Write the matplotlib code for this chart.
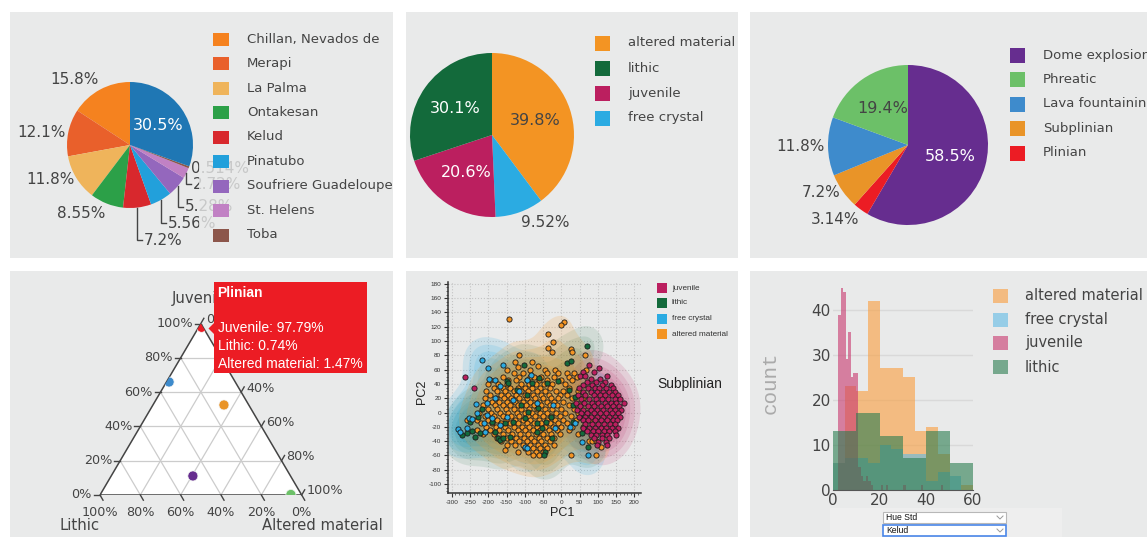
import numpy as np
import matplotlib
matplotlib.use("Agg")
import matplotlib.pyplot as plt
from matplotlib.patches import Rectangle, Polygon
from matplotlib.ticker import MultipleLocator

plt.rcParams['font.family'] = ['DejaVu Sans']
plt.rcParams['axes.unicode_minus'] = False

# ------------------------------------------------------------------ data
volcanoes = ["Chillan, Nevados de", "Merapi", "La Palma", "Ontakesan", "Kelud",
             "Pinatubo", "Soufriere Guadeloupe", "St. Helens", "Toba", "other"]
volcano_pct = [15.8, 12.1, 11.8, 8.55, 7.2, 5.56, 5.28, 2.72, 0.514, 30.5]
volcano_colors = ["#f5821f", "#e9602b", "#efb45b", "#2ca048", "#d8282d",
                  "#22a0db", "#9467bd", "#c181c4", "#8c564b", "#1f77b4"]

components = ["altered material", "free crystal", "juvenile", "lithic"]
component_pct = [39.8, 9.52, 20.6, 30.1]
component_colors = {"altered material": "#f39423", "lithic": "#136a3b",
                    "juvenile": "#bb1f5f", "free crystal": "#2babe2"}
component_legend = ["altered material", "lithic", "juvenile", "free crystal"]

eruption_types = ["Dome explosion", "Plinian", "Subplinian", "Lava fountaining", "Phreatic"]
eruption_pct = [58.5, 3.14, 7.2, 11.8, 19.4]
eruption_colors = {"Dome explosion": "#662d8f", "Phreatic": "#6cc068",
                   "Lava fountaining": "#3e8bcc", "Subplinian": "#e99428",
                   "Plinian": "#ec1c24"}
eruption_legend = ["Dome explosion", "Phreatic", "Lava fountaining", "Subplinian", "Plinian"]

# ternary composition (%) per eruption type
tern_types = ["Plinian", "Lava fountaining", "Subplinian", "Dome explosion", "Phreatic"]
tern_juvenile = [97.79, 65.9, 52.5, 11.1, 0.3]
tern_lithic = [0.74, 32.8, 12.3, 48.4, 5.2]
tern_altered = [1.47, 1.3, 35.2, 40.5, 94.5]

# PCA scores (PC1, PC2)
pca_juvenile = [
    (-263, 50), (-239, 35),
    (76, 66), (104, 62), (58, 56), (89, 56), (51, 51), (65, 51), (124, 51),
    (80, 47), (106, 47), (70, 43), (96, 43), (118, 43),
    (60, 39), (85, 39), (110, 39), (135, 39),
    (48, 34), (72, 34), (92, 34), (104, 34), (122, 34), (142, 34),
    (58, 29), (80, 29), (98, 29), (115, 29), (130, 29), (148, 29),
    (45, 24), (66, 24), (88, 24), (106, 24), (120, 24), (138, 24), (155, 24),
    (55, 19), (76, 19), (94, 19), (112, 19), (128, 19), (146, 19), (160, 19),
    (40, 14), (62, 14), (84, 14), (100, 14), (118, 14), (135, 14), (150, 14), (170, 14),
    (50, 9), (72, 9), (90, 9), (108, 9), (124, 9), (140, 9), (158, 9),
    (44, 4), (60, 4), (80, 4), (98, 4), (115, 4), (132, 4), (148, 4), (163, 4),
    (55, -1), (70, -1), (88, -1), (106, -1), (122, -1), (138, -1), (155, -1),
    (48, -6), (64, -6), (82, -6), (98, -6), (114, -6), (130, -6), (146, -6), (160, -6),
    (58, -11), (74, -11), (92, -11), (108, -11), (124, -11), (140, -11), (152, -11),
    (66, -16), (84, -16), (100, -16), (116, -16), (132, -16), (148, -16),
    (58, -21), (76, -21), (92, -21), (108, -21), (122, -21), (138, -21), (155, -21),
    (70, -26), (86, -26), (100, -26), (116, -26), (130, -26), (146, -26),
    (80, -31), (95, -31), (110, -31), (125, -31), (150, -31),
    (88, -36), (111, -36), (130, -36), (100, -41), (122, -41), (98, -46), (124, -46),
]
pca_lithic = [
    (71, 93), (15, 69), (26, 72), (-103, 66), (-149, 44), (-145, 41), (-81, 41),
    (-60, 48), (-40, 41), (-8, 44), (20, 32), (38, 22), (31, 11), (51, -6),
    (65, -20), (33, -13), (56, -29), (74, -48), (-99, -8), (-53, -22), (-67, -27),
    (-44, -55), (-47, -60), (-218, 5), (-227, -6), (-250, -13), (-245, -26),
    (-222, -29), (-236, -34), (-259, -29), (-273, -31), (-190, -13), (-181, -27),
    (-172, -36), (-168, -38), (-159, -36), (-141, -34), (-154, -15), (-131, -13),
    (-111, 10), (-90, 1), (-67, -15), (-42, -13), (-28, -6), (-63, 6), (-94, 24),
    (-122, 32), (-26, -36),
]
pca_free_crystal = [
    (-218, 74), (-202, 62), (-197, 47), (-181, 46), (-161, 67), (-181, 20),
    (-233, 12), (-204, 14), (-168, 37), (-95, 46), (-115, 30), (-67, 13),
    (-23, 10), (-17, -22), (-254, -8), (-282, -23), (-277, -27), (-259, -22),
    (-245, -9), (-232, -1), (-204, -3), (-190, -8), (-99, -48), (-95, -50),
    (56, -41), (74, -60), (92, 32), (24, -20), (38, -15), (-84, 52), (-131, 17),
    (-149, -6), (-168, -17), (-213, -15), (-209, -27),
]
pca_altered = [
    (-143, 131), (8, 126), (0, 122), (-36, 110), (-24, 98), (-36, 90), (25, 89),
    (-26, 85), (30, 84), (-117, 80), (64, 80),
    (-128, 70), (-80, 70), (-120, 64), (-65, 65),
    (-150, 60), (-85, 60), (-45, 60), (-18, 60), (68, 60),
    (-130, 55), (-105, 55), (-40, 55), (-8, 55), (15, 55), (35, 55),
    (-160, 50), (-115, 50), (-85, 50), (-75, 50), (-55, 50), (-20, 50), (20, 50), (42, 50),
    (-195, 45), (-145, 45), (-125, 45), (-95, 45), (-60, 45), (-38, 45), (0, 45), (30, 45),
    (-200, 40), (-172, 40), (-150, 40), (-110, 40), (-88, 40), (-70, 40), (-48, 40), (-25, 40), (10, 40),
    (-185, 35), (-160, 35), (-140, 35), (-120, 35), (-100, 35), (-80, 35), (-58, 35), (-30, 35), (20, 35),
    (-205, 30), (-175, 30), (-155, 30), (-130, 30), (-110, 30), (-90, 30), (-68, 30), (-45, 30),
    (-15, 30), (5, 30), (45, 30),
    (-195, 25), (-165, 25), (-145, 25), (-125, 25), (-100, 25), (-78, 25), (-55, 25), (-35, 25),
    (-5, 25), (15, 25),
    (-210, 20), (-180, 20), (-158, 20), (-138, 20), (-115, 20), (-95, 20), (-72, 20), (-50, 20),
    (-28, 20), (-10, 20), (28, 20), (60, 20),
    (-190, 15), (-170, 15), (-150, 15), (-128, 15), (-105, 15), (-85, 15), (-62, 15), (-40, 15),
    (-20, 15), (5, 15),
    (-215, 10), (-182, 10), (-160, 10), (-140, 10), (-118, 10), (-98, 10), (-75, 10), (-55, 10),
    (-32, 10), (-12, 10), (20, 10), (50, 10),
    (-200, 5), (-175, 5), (-152, 5), (-130, 5), (-110, 5), (-88, 5), (-68, 5), (-45, 5),
    (-25, 5), (0, 5), (35, 5),
    (-225, 0), (-192, 0), (-168, 0), (-145, 0), (-122, 0), (-100, 0), (-80, 0), (-58, 0),
    (-38, 0), (-15, 0), (10, 0), (45, 0), (70, 0),
    (-210, -5), (-185, -5), (-160, -5), (-138, -5), (-115, -5), (-92, -5), (-72, -5), (-50, -5),
    (-28, -5), (-5, -5), (25, -5),
    (-258, -10), (-230, -10), (-200, -10), (-175, -10), (-152, -10), (-128, -10), (-105, -10),
    (-85, -10), (-62, -10), (-40, -10), (-18, -10), (5, -10), (40, -10), (78, -10),
    (-220, -15), (-190, -15), (-165, -15), (-140, -15), (-118, -15), (-95, -15), (-75, -15),
    (-55, -15), (-32, -15), (-10, -15), (15, -15),
    (-205, -20), (-180, -20), (-155, -20), (-130, -20), (-108, -20), (-88, -20), (-68, -20),
    (-45, -20), (-22, -20), (0, -20), (30, -20), (60, -20),
    (-230, -25), (-195, -25), (-170, -25), (-145, -25), (-120, -25), (-100, -25), (-78, -25),
    (-58, -25), (-35, -25), (-12, -25), (20, -25),
    (-215, -30), (-185, -30), (-160, -30), (-135, -30), (-112, -30), (-90, -30), (-70, -30),
    (-50, -30), (-28, -30), (-5, -30), (45, -30),
    (-175, -35), (-150, -35), (-125, -35), (-102, -35), (-82, -35), (-62, -35), (-40, -35), (-20, -35),
    (-165, -40), (-138, -40), (-115, -40), (-95, -40), (-75, -40), (-55, -40), (-30, -40),
    (75, -40), (85, -40), (95, -40),
    (-150, -45), (-128, -45), (-105, -45), (-85, -45), (-65, -45), (-45, -45), (-20, -45), (108, -48),
    (-155, -52), (-100, -50), (-78, -50), (-58, -50), (-38, -50),
    (-120, -55), (-90, -55), (-70, -55), (-50, -55),
    (-78, -60), (-62, -60), (25, -60), (95, -60),
]

# Hue Std histogram counts (Kelud)
hist_altered = [6, 23, 22, 42, 27, 27, 25, 13, 14, 8, 0, 1]          # 5-wide bins from 0
hist_free_crystal = [6, 7, 7, 6, 10, 9, 8, 8, 2, 4, 3, 0]            # 5-wide bins from 0
hist_lithic = [13, 17, 12, 7, 13, 6]                                  # 10-wide bins from 0
hist_juvenile = [39, 45, 44, 29, 35, 25, 26, 26, 5, 3, 2, 3, 2, 1, 0, 0, 0, 1, 0, 1,
                 0, 0, 0, 0, 0, 0, 1, 0, 0, 0, 0, 0, 0, 1, 0, 0, 0, 0, 0, 0, 0, 1]

# ------------------------------------------------------------------ figure
W, H, DPI = 1147, 537, 100
PANEL = "#e9eaea"
TXT = "#444444"
fig = plt.figure(figsize=(W / DPI, H / DPI), dpi=DPI, facecolor="white")


def axes_px(x0, y0, x1, y1, z=1):
    ax = fig.add_axes([x0 / W, 1 - y1 / H, (x1 - x0) / W, (y1 - y0) / H])
    ax.set_zorder(z)
    ax.patch.set_alpha(0)
    return ax


bg = axes_px(0, 0, W, H, z=0)
bg.set_xlim(0, W); bg.set_ylim(H, 0); bg.axis("off")
for x0, y0, x1, y1 in [(10, 12, 393, 258), (406, 12, 738, 258), (750, 12, 1147, 258),
                       (10, 271, 393, 537), (406, 271, 738, 537), (750, 271, 1147, 537)]:
    bg.add_patch(Rectangle((x0, y0), x1 - x0, y1 - y0, facecolor=PANEL, lw=0))
bg.add_patch(Rectangle((830, 508), 232, 29, facecolor="#eeeeee", lw=0))

ov = axes_px(0, 0, W, H, z=20)
ov.set_xlim(0, W); ov.set_ylim(H, 0); ov.axis("off")


# ------------------------------------------------------------------ pies
def draw_pie(cx, cy, r, values, colors, clockwise, modes):
    span = 2.4
    ax = axes_px(cx - r * span, cy - r * span, cx + r * span, cy + r * span, z=2)
    ax.pie(values, colors=colors, startangle=90, counterclock=not clockwise,
           wedgeprops=dict(linewidth=0))
    ax.set_xlim(-span, span); ax.set_ylim(-span, span)
    ax.axis("off")
    total = float(sum(values))
    cum = 0.0
    for v, mode in zip(values, modes):
        mid = (cum + v / 2) / total
        cum += v
        ang = np.deg2rad(90 - 360 * mid if clockwise else 90 + 360 * mid)
        dx, dy = np.cos(ang), np.sin(ang)
        lab = f"{v:.3g}%"
        if mode[0] == "in":
            ax.text(0.55 * dx, 0.55 * dy, lab, ha="center", va="center",
                    fontsize=11.5, color=mode[1])
        elif mode[0] == "out":
            ha = "left" if dx > 0 else "right"
            va = "bottom" if dy > 0.6 else ("top" if dy < -0.6 else "center")
            ax.text(1.04 * dx, 1.04 * dy, lab, ha=ha, va=va, fontsize=11, color=TXT)
        else:
            ylev = mode[1]
            ax.plot([dx, dx, dx + 0.08], [dy, ylev, ylev], color=TXT, lw=1,
                    clip_on=False, solid_joinstyle="miter")
            ax.text(dx + 0.11, ylev, lab, ha="left", va="center", fontsize=11, color=TXT)
    return ax


draw_pie(130, 145, 63, volcano_pct, volcano_colors, False,
         [("out",), ("out",), ("out",), ("out",), ("lead", -1.51), ("lead", -1.24),
          ("lead", -0.98), ("lead", -0.62), ("out",), ("in", "white")])

draw_pie(492, 135, 82, component_pct, [component_colors[c] for c in components], True,
         [("in", TXT), ("out",), ("in", "white"), ("in", "white")])

draw_pie(908, 145, 80, eruption_pct, [eruption_colors[e] for e in eruption_types], True,
         [("in", "white"), ("out",), ("out",), ("out",), ("in", TXT)])


def legend(x_sq, rows, labels, colors, sq_w, sq_h, tx, fs, alpha=1.0, family=None, tc=TXT):
    for y, lab, col in zip(rows, labels, colors):
        ov.add_patch(Rectangle((x_sq, y - sq_h / 2), sq_w, sq_h, facecolor=col,
                               alpha=alpha, lw=0, zorder=4))
        kw = {} if family is None else {"family": family}
        ov.text(tx, y, lab, fontsize=fs, color=tc, va="center", ha="left", zorder=4, **kw)


# semi-opaque legend box of the first pie (covers the outside labels behind it)
ov.add_patch(Rectangle((199, 25), 193, 226, facecolor=PANEL, alpha=0.8, lw=0, zorder=3))
legend(213, [39 + 24.5 * i for i in range(9)], volcanoes[:9], volcano_colors[:9],
       16, 13, 247, 9.5)
legend(595, [43, 68, 93, 118], component_legend,
       [component_colors[c] for c in component_legend], 15, 15, 628, 9.5)
legend(1010, [55, 79.5, 104, 128.5, 153], eruption_legend,
       [eruption_colors[e] for e in eruption_legend], 15, 15, 1043, 9.5)

# ------------------------------------------------------------------ ternary
h = np.sqrt(3) / 2
tern = axes_px(100, 323.5, 301.7, 495, z=2)
tern.set_xlim(0, 1); tern.set_ylim(0, h); tern.axis("off")
PXX, PXY = 201.7, 171.5 / h      # pixels per data unit


def txy(j, l, a):
    s = j + l + a
    return 0.5 * j / s + a / s, h * j / s


tri = Polygon([(0, 0), (1, 0), (0.5, h)], closed=True, facecolor="white",
              edgecolor="none", zorder=1)
tern.add_patch(tri)
for k in (0.2, 0.4, 0.6, 0.8):
    kw = dict(color="#cccccc", lw=0.9, zorder=2)
    tern.plot([0.5 * k, 1 - 0.5 * k], [h * k, h * k], **kw)
    tern.plot([1 - k, 0.5 * (1 - k)], [0, h * (1 - k)], **kw)
    tern.plot([k, 0.5 * (1 - k) + k], [0, h * (1 - k)], **kw)
tern.add_patch(Polygon([(0, 0), (1, 0), (0.5, h)], closed=True, facecolor="none",
                       edgecolor="#444444", lw=1.1, zorder=3))

for k in np.arange(0, 1.01, 0.2):
    lab = f"{int(round(k * 100))}%"
    # juvenile axis (left edge)
    x, y = 0.5 * k, h * k
    tern.plot([x - 6 / PXX, x], [y, y], color="#444444", lw=1, clip_on=False)
    tern.text(x - 8 / PXX, y, lab, ha="right", va="center", fontsize=9.2, color=TXT)
    # lithic axis (bottom edge)
    x = 1 - k
    tern.plot([x, x + 3 / PXX], [0, -5.2 / PXY], color="#444444", lw=1, clip_on=False)
    tern.text(x, -18 / PXY, lab, ha="center", va="center", fontsize=9.2, color=TXT)
    # altered material axis (right edge)
    x, y = 0.5 * (1 - k) + k, h * (1 - k)
    tern.plot([x, x + 3 / PXX], [y, y + 5.2 / PXY], color="#444444", lw=1, clip_on=False)
    tern.text(x + 5 / PXX, y + 4 / PXY, lab, ha="left", va="center", fontsize=9.2, color=TXT)

pts = [txy(j, l, a) for j, l, a in zip(tern_juvenile, tern_lithic, tern_altered)]
sc = tern.scatter([p[0] for p in pts], [p[1] for p in pts], s=52,
                  c=[eruption_colors[t] for t in tern_types],
                  edgecolors="#f4f4f4", linewidths=0.5, zorder=4)
sc.set_clip_path(tri)

ov.text(200.8, 299, "Juvenile", ha="center", va="center", fontsize=10.7, color=TXT, zorder=2)
ov.text(80, 525, "Lithic", ha="center", va="center", fontsize=10.7, color=TXT, zorder=2)
ov.text(322, 525, "Altered material", ha="center", va="center", fontsize=10.7, color=TXT, zorder=2)

# hover label on the Plinian point
ov.add_patch(Rectangle((214.3, 281.7), 152.4, 91.6, facecolor="#ec1c24", lw=0, zorder=6))
ov.add_patch(Polygon([(214.5, 322.5), (208.5, 328.5), (214.5, 334.5)], closed=True,
                     facecolor="#ec1c24", lw=0, zorder=6))
i_pl = tern_types.index("Plinian")
ov.text(217.5, 293, "Plinian", fontsize=10, fontweight="bold", color="white",
        family="Liberation Sans", va="center", ha="left", zorder=7)
for yy, name, val in [(328, "Juvenile", tern_juvenile[i_pl]),
                      (346, "Lithic", tern_lithic[i_pl]),
                      (364, "Altered material", tern_altered[i_pl])]:
    ov.text(217.5, yy, f"{name}: {val:.2f}%", fontsize=10, color="white",
            family="Liberation Sans", va="center", ha="left", zorder=7)

# ------------------------------------------------------------------ PCA
pca = axes_px(448.3, 281.7, 640.7, 493.3, z=2)
X0, X1, Y0, Y1 = -309.3, 217, -113, 183
pca.set_xlim(X0, X1); pca.set_ylim(Y0, Y1)
gx = np.linspace(X0, X1, 240)
gy = np.linspace(Y0, Y1, 170)
GX, GY = np.meshgrid(gx, gy)


def density(points, bx=32.0, by=20.0):
    d = np.zeros_like(GX)
    for x, y in points:
        d += np.exp(-0.5 * (((GX - x) / bx) ** 2 + ((GY - y) / by) ** 2))
    return d / d.max()


# density shading, drawn in legend order so altered material ends on top
shade = [(pca_juvenile, component_colors["juvenile"], 0.13),
         (pca_lithic, component_colors["lithic"], 0.11),
         (pca_free_crystal, component_colors["free crystal"], 0.15),
         (pca_altered, component_colors["altered material"], 0.17)]
levels = [0.06, 0.14, 0.25, 0.38, 0.55, 0.75]
for points, col, a in shade:
    d = density(points)
    for lv in levels:
        pca.contourf(GX, GY, d, levels=[lv, 1.01], colors=[col], alpha=a,
                     antialiased=True, zorder=1)

groups = [(pca_altered, component_colors["altered material"]),
          (pca_lithic, component_colors["lithic"]),
          (pca_free_crystal, component_colors["free crystal"]),
          (pca_juvenile, component_colors["juvenile"])]
for points, col in groups:
    arr = np.array(points, dtype=float)
    pca.scatter(arr[:, 0], arr[:, 1], s=14, c=col, edgecolors="#1b1b1b",
                linewidths=0.6, zorder=3)

pca.xaxis.set_minor_locator(MultipleLocator(10))
pca.yaxis.set_minor_locator(MultipleLocator(5))
pca.set_xticks(np.arange(-300, 201, 50))
pca.set_yticks(np.arange(-100, 181, 20))
pca.grid(True, which="major", ls=":", color="#c4c4c4", lw=0.8)
pca.set_axisbelow(True)
for s in ("top", "right"):
    pca.spines[s].set_visible(False)
for s in ("left", "bottom"):
    pca.spines[s].set_color("#333333"); pca.spines[s].set_linewidth(1.1)
pca.tick_params(which="major", length=3, width=0.8, color="#333333",
                labelsize=4.6, labelcolor="#333333", pad=2)
pca.tick_params(which="minor", length=1.5, width=0.6, color="#555555")
for lab in pca.get_xticklabels() + pca.get_yticklabels():
    lab.set_family("Liberation Sans")

ov.text(562, 513, "PC1", fontsize=9, color="#222222", family="Liberation Sans",
        ha="center", va="center")
ov.text(422, 392, "PC2", fontsize=9, color="#222222", family="Liberation Sans",
        ha="center", va="center", rotation=90)
ov.text(657, 384, "Subplinian", fontsize=10, color="#222222", family="Liberation Sans",
        ha="left", va="center")
legend(657, [288, 303, 318.5, 334], ["juvenile", "lithic", "free crystal", "altered material"],
       [component_colors[c] for c in ["juvenile", "lithic", "free crystal", "altered material"]],
       10, 10, 672, 5.9, family="Liberation Sans", tc="#333333")

# ------------------------------------------------------------------ histogram
hist = axes_px(833, 277.3, 973, 489.5, z=2)
hist.set_xlim(0, 60); hist.set_ylim(0, 47.3)
HALPHA = 0.6
hist_colors = {"altered material": "#fa9d3c", "free crystal": "#5fbbe6",
               "juvenile": "#c8376e", "lithic": "#2a7d4f"}
e5 = np.arange(0, 60, 5)
e10 = np.arange(0, 60, 10)
ej = 2.29 + 1.07 * np.arange(len(hist_juvenile))
for edges, counts, w, name in [(e5, hist_altered, 5, "altered material"),
                               (e5, hist_free_crystal, 5, "free crystal"),
                               (ej, hist_juvenile, 1.07, "juvenile"),
                               (e10, hist_lithic, 10, "lithic")]:
    hist.bar(edges, counts, width=w, align="edge", color=hist_colors[name],
             alpha=HALPHA, linewidth=0, zorder=2)
hist.set_yticks([0, 10, 20, 30, 40])
hist.set_xticks([0, 20, 40, 60])
hist.grid(True, axis="y", color="#d9d9d9", lw=1)
hist.set_axisbelow(True)
for s in ("top", "right", "left"):
    hist.spines[s].set_visible(False)
hist.spines["bottom"].set_color("#555555")
hist.tick_params(axis="y", length=0, pad=1.5, labelsize=11, labelcolor=TXT)
hist.tick_params(axis="x", length=0, pad=2.5, labelsize=11, labelcolor=TXT)

ov.text(770, 383, "count", fontsize=15, color="#aaaaaa", family="Liberation Mono",
        rotation=90, ha="center", va="center")
legend(993, [296, 319.5, 343, 367], ["altered material", "free crystal", "juvenile", "lithic"],
       [hist_colors[c] for c in ["altered material", "free crystal", "juvenile", "lithic"]],
       15, 14, 1025, 10.5, alpha=HALPHA)

# dropdown selectors
for y0, label, edge, lw in [(512, "Hue Std", "#b8b8b8", 0.8), (525, "Kelud", "#4a86e8", 1.2)]:
    ov.add_patch(Rectangle((883, y0), 123, 11, facecolor="white", edgecolor=edge, lw=lw, zorder=5))
    ov.text(886, y0 + 5.7, label, fontsize=6.2, color="#111111", family="Liberation Sans",
            va="center", ha="left", zorder=6)
    ov.plot([997, 1000, 1003], [y0 + 4, y0 + 7, y0 + 4], color="#999999", lw=0.7, zorder=6)

fig.savefig("out.png", dpi=DPI, facecolor="white")
